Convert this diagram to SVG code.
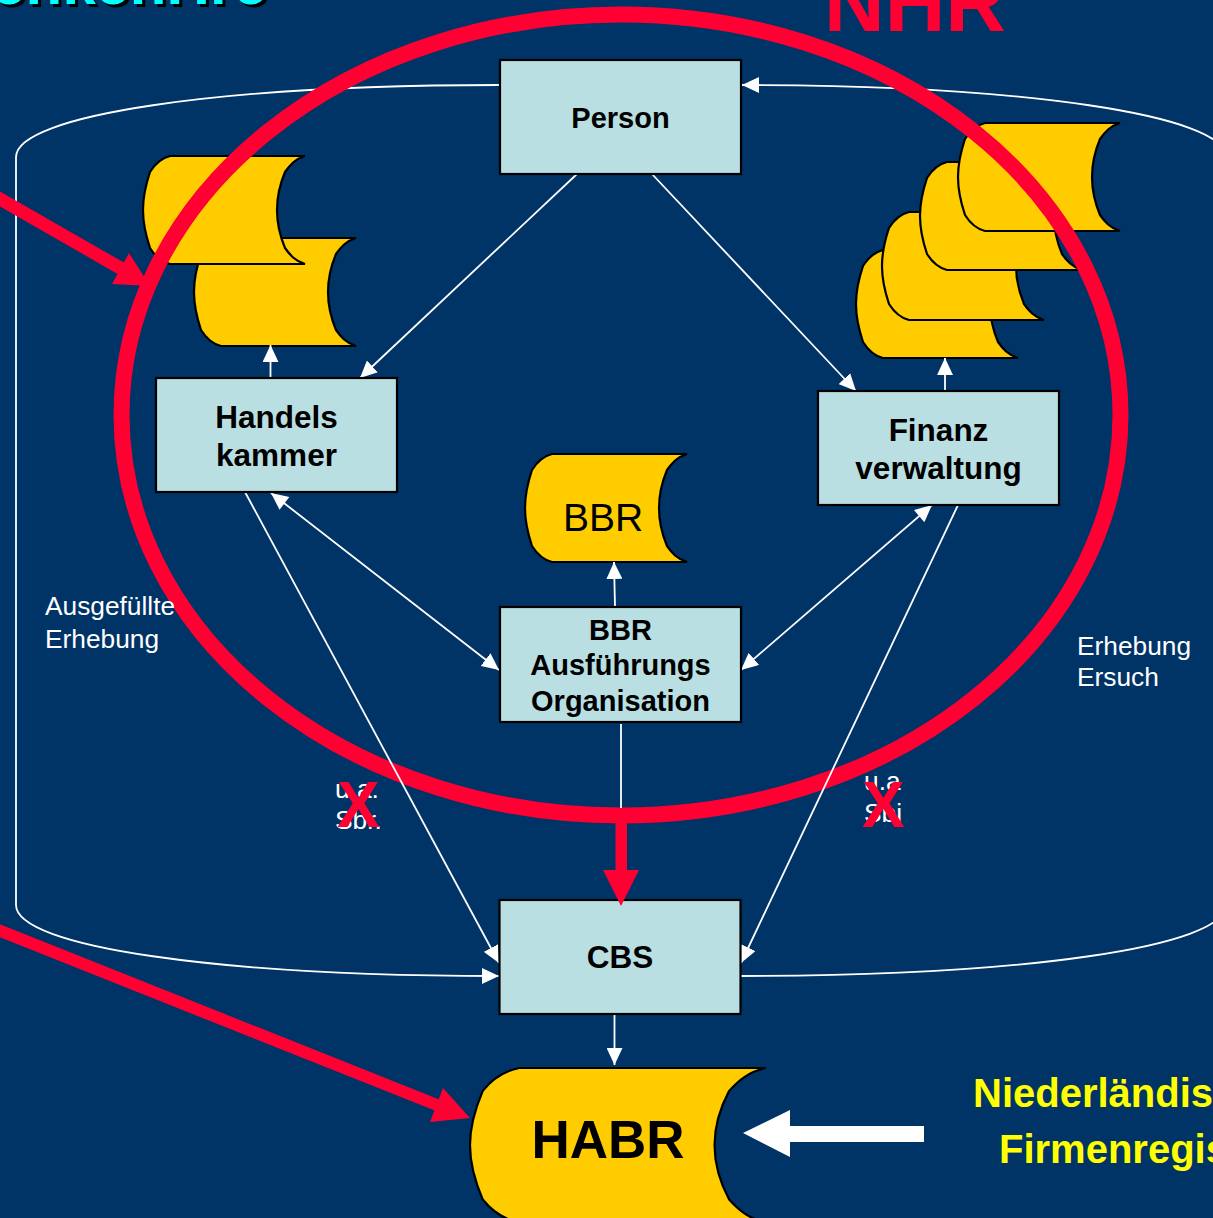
<svg xmlns="http://www.w3.org/2000/svg" width="1213" height="1218" viewBox="0 0 1213 1218">
<style>
text{font-family:"Liberation Sans",Arial,sans-serif}
.box{fill:#B9DFE2;stroke:#000;stroke-width:2.2}
.doc{fill:#FFCC00;stroke:#000;stroke-width:2.2;vector-effect:non-scaling-stroke}
.lbl{font-weight:700;fill:#000;text-anchor:middle}
.note{font-size:26.300px;fill:#fff}
.wire{fill:none;stroke:#fff;stroke-width:1.8}
.red{fill:#FF0033}
.redx{fill:#FF0033;font-weight:700;font-size:64px}
.yel{fill:#FFFF00;font-weight:700;font-size:40px}
</style>
<defs>
<path id="docshape" class="doc" d="M27,0H162C152,3 147,9 142,16C137,28 134,41 134,54C134,67 137,80 142,92C147,99 152,105 162,108H27C19,106 12,100 7,92C3,80 0,67 0,54C0,41 3,28 7,16C12,8 19,2 27,0Z"/>
<marker id="ah" markerUnits="userSpaceOnUse" markerWidth="18" markerHeight="16" refX="17" refY="8" orient="auto"><path d="M0,0L17,8L0,16Z" fill="#fff"/></marker>
<marker id="at" markerUnits="userSpaceOnUse" markerWidth="18" markerHeight="16" refX="0" refY="8" orient="auto"><path d="M17,0L0,8L17,16Z" fill="#fff"/></marker>
</defs>
<rect width="1213" height="1218" fill="#003366"/>
<g id="title">
<text x="-5" y="7" font-size="60" font-weight="700" fill="#000" textLength="275">enkenHre</text>
<text x="-8" y="4" font-size="60" font-weight="700" fill="#00FFFF" textLength="275">enkenHre</text>
</g>
<text id="nhr" x="824" y="31" font-size="84" font-weight="700" fill="#FF0033">NHR</text>
<g id="loop-connectors">
<path class="wire" d="M500,85C220,85 16,115 16,157V905C16,947 220,976 499,976" marker-end="url(#ah)"/>
<path class="wire" d="M741,976C1022,976 1226,947 1226,905V157C1226,115 1022,85 742,85" marker-end="url(#ah)"/>
</g>
<g id="doc-left-1"><use href="#docshape" transform="translate(194 238)"/></g>
<g id="doc-left-2"><use href="#docshape" transform="translate(143 156)"/></g>
<g id="doc-right-4"><use href="#docshape" transform="translate(856 250)"/></g>
<g id="doc-right-3"><use href="#docshape" transform="translate(882 212)"/></g>
<g id="doc-right-2"><use href="#docshape" transform="translate(920 162)"/></g>
<g id="doc-right-1"><use href="#docshape" transform="translate(958 123)"/></g>
<g id="doc-bbr"><use href="#docshape" transform="translate(525 454)"/><text x="603" y="531" font-size="39" fill="#000" text-anchor="middle">BBR</text></g>
<g id="doc-habr"><use href="#docshape" transform="translate(470 1068) scale(1.825 1.43)"/><text class="lbl" x="608" y="1158" font-size="53">HABR</text></g>
<ellipse id="red-ring" cx="621" cy="415" rx="499.500" ry="400.500" fill="none" stroke="#FF0033" stroke-width="16"/>
<g id="red-arrows">
<path d="M-12,192L122,269" stroke="#FF0033" stroke-width="13" fill="none"/>
<path class="red" d="M129,253L150,286L112,284Z"/>
<path d="M-12,926L437,1105" stroke="#FF0033" stroke-width="12" fill="none"/>
<path class="red" d="M443,1088L470,1118L430,1122Z"/>
</g>
<g id="connectors">
<path class="wire" d="M577,174L360,378" marker-end="url(#ah)"/>
<path class="wire" d="M652,174L856,391" marker-end="url(#ah)"/>
<path class="wire" d="M270.500,378V345" marker-end="url(#ah)"/>
<path class="wire" d="M945,391V358" marker-end="url(#ah)"/>
<path class="wire" d="M615,607L614,562" marker-end="url(#ah)"/>
<path class="wire" d="M271,493L499,670" marker-start="url(#at)" marker-end="url(#ah)"/>
<path class="wire" d="M932,505L741,670" marker-start="url(#at)" marker-end="url(#ah)"/>
<path class="wire" d="M245,492L499,963" marker-end="url(#ah)"/>
<path class="wire" d="M958,505L741,963" marker-end="url(#ah)"/>
<path class="wire" d="M621,724V808"/>
<path class="wire" d="M614.500,1014V1065" marker-end="url(#ah)"/>
</g>
<g id="person"><rect class="box" x="500" y="60" width="241" height="114"/><text class="lbl" x="620.500" y="128" font-size="29">Person</text></g>
<g id="handelskammer"><rect class="box" x="156" y="378" width="241" height="114"/><text class="lbl" x="276.500" y="428" font-size="31.500">Handels</text><text class="lbl" x="276.500" y="466" font-size="31.500">kammer</text></g>
<g id="finanzverwaltung"><rect class="box" x="818" y="391" width="241" height="114"/><text class="lbl" x="938.500" y="441" font-size="31.500">Finanz</text><text class="lbl" x="938.500" y="479" font-size="31.500">verwaltung</text></g>
<g id="bbr-org"><rect class="box" x="500" y="607" width="241" height="115"/><text class="lbl" x="620.500" y="640" font-size="29">BBR</text><text class="lbl" x="620.500" y="675" font-size="29">Ausführungs</text><text class="lbl" x="620.500" y="711" font-size="29">Organisation</text></g>
<g id="cbs"><rect class="box" x="499.500" y="900" width="241" height="114"/><text class="lbl" x="620" y="968" font-size="31.500">CBS</text></g>
<path id="red-arrow-cbs" class="red" d="M615.500,815H627V870H639L621,906L603,870H615.500Z"/>
<g id="labels">
<text class="note" x="45" y="615">Ausgefüllte</text><text class="note" x="45" y="648">Erhebung</text>
<text class="note" x="1077" y="655">Erhebung</text><text class="note" x="1077" y="686">Ersuch</text>
<text class="note" x="335" y="798">u.a.</text><text class="note" x="335" y="829">Sbr.</text>
<text class="note" x="864" y="790">u.a</text><text class="note" x="864" y="822">Sbi</text>
<text class="redx" x="337" y="827">X</text><text class="redx" x="862" y="827">X</text>
</g>
<path id="white-arrow" d="M743,1133L790,1110V1126H924V1142H790V1157Z" fill="#fff"/>
<g id="register-label"><text class="yel" x="973" y="1107">Niederländis</text><text class="yel" x="999" y="1163">Firmenregis</text></g>
</svg>
